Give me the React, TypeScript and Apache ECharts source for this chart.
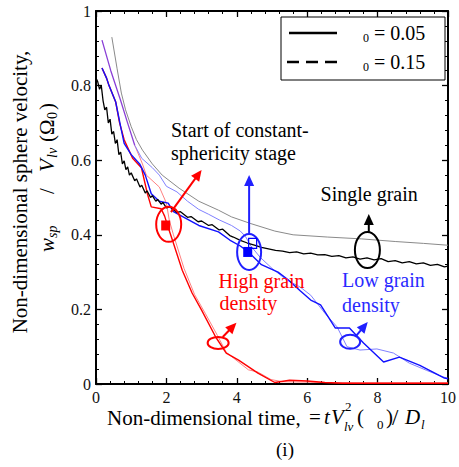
import React, { useEffect, useRef } from "react";
import * as echarts from "echarts";

// ---------- data ----------
const xTickValues = [0, 2, 4, 6, 8, 10];
const yTickValues = [0, 0.2, 0.4, 0.6, 0.8, 1];

const singleGrainThin: [number, number][] = [
  [0.45, 0.93], [0.6, 0.845], [0.72, 0.78], [0.84, 0.735], [1.0, 0.69], [1.15, 0.655],
  [1.32, 0.627], [1.6, 0.59], [1.88, 0.56], [2.36, 0.525], [2.92, 0.49], [3.48, 0.466],
  [3.85, 0.448], [4.4, 0.43], [5.08, 0.41], [5.6, 0.4], [6.57, 0.394], [7.55, 0.389],
  [8.5, 0.382], [9.3, 0.377], [10, 0.372],
];

const singleGrain: [number, number][] = [
  [0, 0.82], [0.05, 0.81], [0.1, 0.79], [0.15, 0.8], [0.2, 0.76], [0.25, 0.735], [0.3, 0.742],
  [0.35, 0.7], [0.4, 0.71], [0.45, 0.67], [0.5, 0.677], [0.55, 0.645], [0.6, 0.655], [0.65, 0.615],
  [0.7, 0.622], [0.75, 0.59], [0.8, 0.598], [0.85, 0.575], [0.9, 0.582], [0.95, 0.56], [1.0, 0.566],
  [1.1, 0.545], [1.15, 0.55], [1.25, 0.528], [1.3, 0.533], [1.4, 0.512], [1.45, 0.518], [1.55, 0.5],
  [1.6, 0.505], [1.7, 0.49], [1.75, 0.495], [1.85, 0.482], [1.9, 0.487], [2.0, 0.472], [2.1, 0.475],
  [2.3, 0.46], [2.4, 0.462], [2.6, 0.447], [2.7, 0.449], [2.9, 0.435], [3.0, 0.437], [3.2, 0.425],
  [3.3, 0.427], [3.5, 0.413], [3.6, 0.415], [3.8, 0.398], [3.9, 0.394], [4.1, 0.385], [4.3, 0.378],
  [4.5, 0.372], [4.7, 0.366], [4.9, 0.362], [5.1, 0.358], [5.3, 0.356], [5.5, 0.352], [5.7, 0.354],
  [5.9, 0.349], [6.1, 0.351], [6.3, 0.346], [6.5, 0.347], [6.7, 0.342], [6.9, 0.344], [7.1, 0.338],
  [7.3, 0.341], [7.5, 0.335], [7.7, 0.338], [7.9, 0.333], [8.1, 0.336], [8.3, 0.328], [8.5, 0.331],
  [8.7, 0.325], [8.9, 0.328], [9.1, 0.322], [9.3, 0.325], [9.5, 0.318], [9.7, 0.321], [9.9, 0.314],
  [10, 0.316],
];

const sharedThin: [number, number][] = [
  [0.17, 0.922], [0.42, 0.84], [0.7, 0.76], [0.87, 0.708], [1.1, 0.64],
];

const lowDensityThin: [number, number][] = [
  [1.1, 0.64], [1.3, 0.605], [1.6, 0.58], [1.8, 0.56], [2.0, 0.53], [2.3, 0.515], [2.6, 0.49],
  [2.92, 0.468], [3.2, 0.455], [3.5, 0.44], [3.85, 0.425], [4.1, 0.41], [4.25, 0.395], [4.4, 0.37],
  [4.66, 0.34], [5.0, 0.31], [5.4, 0.28], [5.8, 0.26], [6.1, 0.238], [6.5, 0.19], [6.85, 0.153],
  [7.13, 0.1], [7.5, 0.091], [7.98, 0.094], [8.45, 0.083], [8.9, 0.056], [9.38, 0.037],
  [9.86, 0.019], [10, 0.015],
];

const highDensityThin: [number, number][] = [
  [1.1, 0.64], [1.32, 0.59], [1.43, 0.56], [1.8, 0.528], [2.0, 0.485], [2.08, 0.44], [2.2, 0.4],
  [2.5, 0.31], [2.8, 0.24], [3.1, 0.19], [3.45, 0.13], [3.7, 0.085], [3.9, 0.07], [4.33, 0.038],
  [4.6, 0.032], [4.97, 0.012], [5.3, 0.006], [6, 0.005], [6.5, 0.004], [7.5, 0.003], [10, 0.003],
];

const highDensity: [number, number][] = [
  [0.17, 0.847], [0.3, 0.82], [0.37, 0.8], [0.56, 0.756], [0.67, 0.7], [0.8, 0.655], [1.04, 0.605],
  [1.29, 0.58], [1.46, 0.51], [1.57, 0.475], [1.85, 0.47], [1.95, 0.45], [2.05, 0.42], [2.17, 0.386],
  [2.45, 0.305], [2.73, 0.244], [3.0, 0.198], [3.4, 0.126], [3.7, 0.083], [4.05, 0.064], [4.6, 0.029],
  [5.08, 0.004], [5.5, 0.01], [6.0, 0.008], [6.5, 0.004], [7.0, 0.002], [8.0, 0.002], [10, 0.002],
];

const lowDensity: [number, number][] = [
  [0.17, 0.847], [0.3, 0.82], [0.37, 0.8], [0.56, 0.756], [0.7, 0.69], [0.8, 0.645], [1.0, 0.615],
  [1.24, 0.59], [1.4, 0.56], [1.57, 0.51], [1.8, 0.49], [2.05, 0.485], [2.2, 0.462], [2.5, 0.447],
  [2.92, 0.425], [3.48, 0.408], [3.8, 0.386], [4.1, 0.37], [4.33, 0.354], [4.7, 0.32], [5.17, 0.3],
  [5.45, 0.28], [5.8, 0.25], [6.1, 0.225], [6.38, 0.212], [6.8, 0.15], [7.2, 0.15], [7.6, 0.11],
  [8.17, 0.059], [8.62, 0.072], [9.2, 0.05], [9.9, 0.016], [10, 0.014],
];

// annotation anchors (data coordinates)
const ellipseMarks = [
  { at: [2.065, 0.428], rx: 12.5, ry: 17.5, color: "#ff0000" },
  { at: [3.47, 0.11], rx: 10.5, ry: 6, color: "#ff0000" },
  { at: [4.35, 0.354], rx: 12, ry: 18, color: "#2020ff" },
  { at: [7.71, 0.359], rx: 12.5, ry: 18, color: "#000000" },
  { at: [7.22, 0.113], rx: 10, ry: 7, color: "#2020ff" },
];
const arrowMarks = [
  { from: [2.13, 0.461], to: [3.0, 0.574], color: "#ff0000" },
  { from: [3.6, 0.126], to: [3.99, 0.164], color: "#ff0000" },
  { from: [4.35, 0.402], to: [4.35, 0.56], color: "#2020ff" },
  { from: [7.75, 0.408], to: [7.75, 0.456], color: "#000000" },
  { from: [7.39, 0.129], to: [7.72, 0.166], color: "#2020ff" },
];
const squareMarks = [
  { at: [1.98, 0.425], w: 9, h: 10, color: "#ff0000", filled: true },
  { at: [4.31, 0.354], w: 9, h: 10, color: "#0000ff", filled: true },
  { at: [4.45, 0.377], w: 8, h: 10, color: "#0000ff", filled: false },
];
const labelMarks = [
  { at: [2.13, 0.681], text: "Start of constant-", color: "#000000" },
  { at: [2.13, 0.619], text: "sphericity stage", color: "#000000" },
  { at: [6.38, 0.509], text: "Single grain", color: "#000000" },
  { at: [3.48, 0.276], text: "High grain", color: "#ff0000" },
  { at: [3.51, 0.217], text: "density", color: "#ff0000" },
  { at: [6.99, 0.279], text: "Low grain", color: "#2a2aff" },
  { at: [6.99, 0.212], text: "density", color: "#2a2aff" },
];

const SERIF = "Liberation Serif";

function mkLine(name: string, data: [number, number][], color: string, width: number, z: number) {
  return {
    type: "line",
    name,
    data,
    symbol: "none",
    showSymbol: false,
    silent: true,
    z,
    lineStyle: { color, width },
  };
}

function axisCommon(showLabel: boolean) {
  return {
    axisLine: { show: true, onZero: false, lineStyle: { color: "#000", width: 2 } },
    axisTick: { show: true, inside: true, length: 6, lineStyle: { color: "#000", width: 1.3 } },
    minorTick: { show: true, splitNumber: 5, length: 3, lineStyle: { color: "#000", width: 1 } },
    splitLine: { show: false },
    minorSplitLine: { show: false },
    axisLabel: {
      show: showLabel,
      color: "#111",
      fontFamily: SERIF,
      fontSize: 16,
    },
  };
}

export default function App() {
  const ref = useRef<HTMLDivElement>(null);

  useEffect(() => {
    document.body.style.margin = "0";
    const chart = echarts.init(ref.current!, null, { renderer: "svg" });
    const xc = axisCommon(true);
    const yc = axisCommon(true);
    chart.setOption({
      animation: false,
      backgroundColor: "#ffffff",
      textStyle: { fontFamily: SERIF },
      grid: { left: 96, right: 7, top: 11, bottom: 83 },
      xAxis: [
        {
          type: "value", min: xTickValues[0], max: xTickValues[xTickValues.length - 1], interval: 2,
          position: "bottom", ...xc,
          axisLabel: { ...xc.axisLabel, margin: 5 },
        },
        {
          type: "value", min: xTickValues[0], max: xTickValues[xTickValues.length - 1], interval: 2,
          position: "top", ...axisCommon(false),
        },
      ],
      yAxis: [
        {
          type: "value", min: yTickValues[0], max: yTickValues[yTickValues.length - 1], interval: 0.2,
          position: "left", ...yc,
          axisLabel: { ...yc.axisLabel, margin: 5 },
        },
        {
          type: "value", min: yTickValues[0], max: yTickValues[yTickValues.length - 1], interval: 0.2,
          position: "right", ...axisCommon(false),
        },
      ],
      series: [
        mkLine("single thin", singleGrainThin, "#8a8a8a", 1, 2),
        mkLine("high thin", highDensityThin, "#ff8080", 1, 3),
        mkLine("low thin", lowDensityThin, "#8080ff", 1, 3),
        mkLine("shared thin", sharedThin, "#8a3fd6", 1.3, 4),
        mkLine("high", highDensity, "#ff0000", 1.4, 5),
        mkLine("low", lowDensity, "#1010ff", 1.4, 6),
        mkLine("single", singleGrain, "#000000", 1.3, 7),
      ],
    });

    const px = (p: number[]) => chart.convertToPixel({ gridIndex: 0 }, p) as number[];
    const g: any[] = [];

    const txt = (text: string, x: number, y: number, size: number, italic = false, align = "left", color = "#000") => ({
      type: "text", x, y, z: 100,
      style: {
        text, fill: color, fontFamily: SERIF, fontSize: size, fontStyle: italic ? "italic" : "normal",
        align, verticalAlign: "middle",
      },
    });

    ellipseMarks.forEach((e) => {
      const [cx, cy] = px(e.at);
      g.push({ type: "ellipse", shape: { cx, cy, rx: e.rx, ry: e.ry }, style: { fill: "none", stroke: e.color, lineWidth: 2 }, z: 100 });
    });
    squareMarks.forEach((s) => {
      const [cx, cy] = px(s.at);
      g.push({
        type: "rect", shape: { x: cx - s.w / 2, y: cy - s.h / 2, width: s.w, height: s.h },
        style: s.filled ? { fill: s.color } : { fill: "none", stroke: s.color, lineWidth: 1.2 }, z: 100,
      });
    });
    arrowMarks.forEach((a) => {
      const p0 = px(a.from);
      const p1 = px(a.to);
      const dx = p1[0] - p0[0], dy = p1[1] - p0[1];
      const L = Math.hypot(dx, dy);
      const ux = dx / L, uy = dy / L;
      const hl = 11, hw = 5;
      const bx = p1[0] - ux * hl, by = p1[1] - uy * hl;
      g.push({ type: "line", shape: { x1: p0[0], y1: p0[1], x2: bx + ux * 2, y2: by + uy * 2 }, style: { stroke: a.color, lineWidth: 2 }, z: 100 });
      g.push({
        type: "polygon",
        shape: { points: [[p1[0], p1[1]], [bx - uy * hw, by + ux * hw], [bx + uy * hw, by - ux * hw]] },
        style: { fill: a.color }, z: 100,
      });
    });
    labelMarks.forEach((l) => {
      const [x, y] = px(l.at);
      g.push(txt(l.text, x, y, 20, false, "left", l.color));
    });

    // legend
    g.push({ type: "rect", shape: { x: 281, y: 17, width: 164, height: 63 }, style: { fill: "#fff", stroke: "#000", lineWidth: 1 }, z: 90 });
    g.push({ type: "line", shape: { x1: 289, y1: 33, x2: 337, y2: 33 }, style: { stroke: "#000", lineWidth: 2.5 }, z: 100 });
    g.push({ type: "line", shape: { x1: 287, y1: 62, x2: 337, y2: 62 }, style: { stroke: "#000", lineWidth: 2.5, lineDash: [12, 7] }, z: 100 });
    g.push(txt("0", 363, 38, 12));
    g.push(txt("= 0.05", 374, 33, 20));
    g.push(txt("0", 363, 67, 12));
    g.push(txt("= 0.15", 374, 62, 20));

    // y axis title
    g.push({
      type: "text", x: 20, y: 192, rotation: Math.PI / 2, z: 100,
      style: { text: "Non-dimensional sphere velocity,", fill: "#000", fontFamily: SERIF, fontSize: 21, align: "center", verticalAlign: "middle" },
    });
    g.push({
      type: "group", x: 47, y: 252, rotation: Math.PI / 2, z: 100,
      children: [
        txt("w", 0, 0, 21, true),
        txt("sp", 14, 5, 14, true),
        txt("/", 58, 0, 21),
        txt("V", 80, 0, 21, true),
        txt("lv", 94, 5, 14, true),
        txt("(", 110, 0, 21),
        txt("Ω", 117, 0, 21),
        txt("0", 133, 5, 14),
        txt(")", 142, 0, 21),
      ],
    });

    // x axis title
    g.push(txt("Non-dimensional time,", 107, 418, 21));
    g.push(txt("=", 309, 417, 21));
    g.push(txt("t", 324, 417, 21, true));
    g.push(txt("V", 331, 417, 21, true));
    g.push(txt("2", 345, 406, 13));
    g.push(txt("lv", 344, 426, 13, true));
    g.push(txt("(", 357, 417, 21));
    g.push(txt("0", 377, 424, 13));
    g.push(txt(")", 386, 417, 21));
    g.push(txt("/", 392, 417, 23));
    g.push(txt("D", 405, 417, 21, true));
    g.push(txt("l", 421, 424, 13, true));
    g.push(txt("(i)", 285, 449, 19, false, "center"));

    chart.setOption({ graphic: { elements: g } });

    return () => chart.dispose();
  }, []);

  return <div ref={ref} style={{ width: 459, height: 467 }} />;
}
